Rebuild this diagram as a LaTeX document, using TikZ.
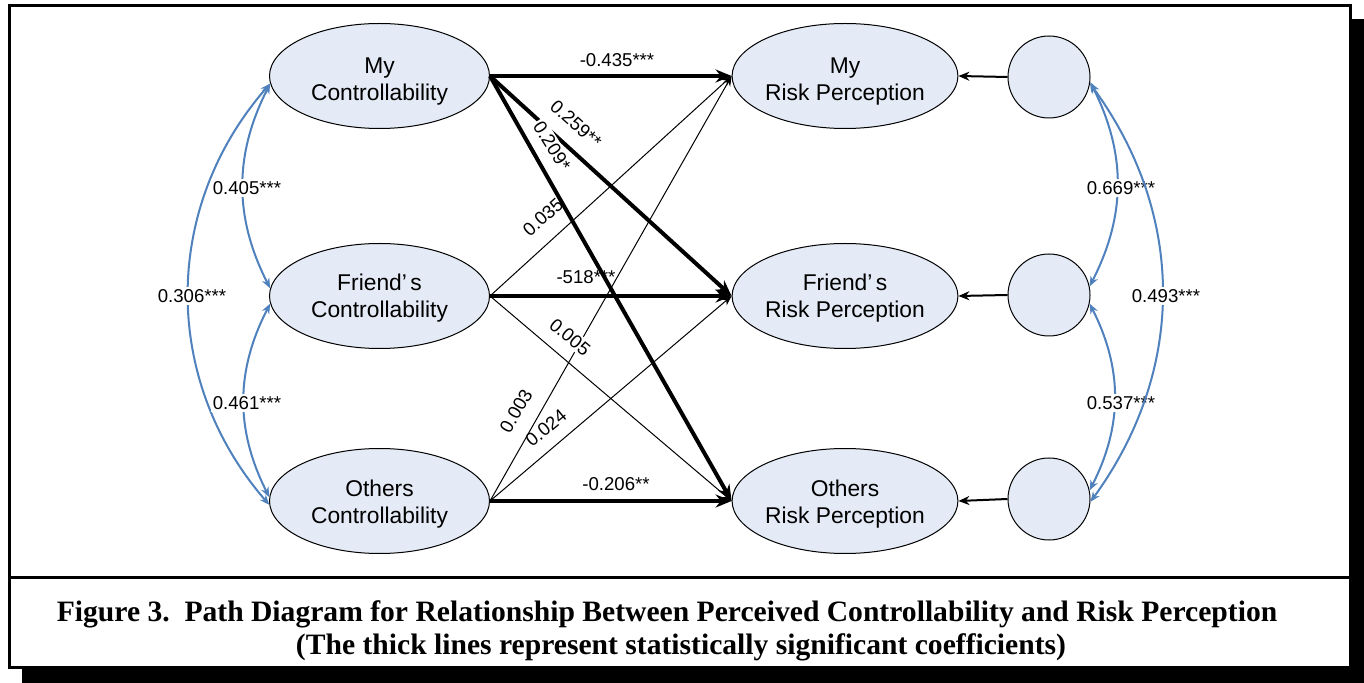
\documentclass[tikz,border=0pt]{standalone}
\usepackage{fontspec}
\setmainfont{Liberation Sans}
\newfontfamily\capfont{Liberation Serif}
\usetikzlibrary{shapes.geometric,arrows.meta}
\definecolor{ellfill}{RGB}{228,235,246}
\definecolor{arcblue}{RGB}{79,129,189}
\begin{document}
\begin{tikzpicture}[x=0.5pt,y=-0.5pt,
  ell/.style={ellipse,draw,line width=0.5pt,fill=ellfill,minimum width=110pt,minimum height=52.5pt,inner sep=0pt,align=center,font=\fontsize{11.4}{13.5}\selectfont},
  err/.style={circle,draw,line width=0.5pt,fill=ellfill,minimum size=41pt,inner sep=0pt},
  sig/.style={line width=2pt,-{Stealth[length=8pt,width=6.5pt]}},
  ns/.style={line width=0.5pt,-{Stealth[length=5pt,width=4pt]}},
  res/.style={line width=1pt,-{Stealth[length=5.5pt,width=4.5pt]}},
  cov/.style={arcblue,line width=1pt,{Stealth[length=5pt,width=4pt]}-{Stealth[length=5pt,width=4pt]}},
  lbl/.style={font=\fontsize{9.3}{11}\selectfont,inner sep=1pt},
  lblw/.style={lbl,fill=white},
  captext/.style={font=\capfont\bfseries\fontsize{14.8}{17}\selectfont,inner sep=0pt,anchor=base}
]
\useasboundingbox (0,0) rectangle (1364,683);
% frame with shadow
\fill[black] (22,19) rectangle (1364,683);
\draw[line width=1.25pt,fill=white] (9.5,5.5) rectangle (1350.5,667.5);
\draw[line width=1.5pt] (9.5,577.5) -- (1350.5,577.5);
% nodes
\node[ell] (m) at (379.5,76) {\rule{0pt}{13pt}My\\Controllability};
\node[ell] (f) at (379.5,296) {\rule{0pt}{10.8pt}Friend’\hspace{0.15em}s\\Controllability};
\node[ell] (o) at (379.5,501) {\rule{0pt}{11.3pt}Others\\Controllability};
\node[ell] (rm) at (845,76) {\rule{0pt}{13pt}My\\Risk Perception};
\node[ell] (rf) at (845,296) {\rule{0pt}{10.8pt}Friend’\hspace{0.15em}s\\Risk Perception};
\node[ell] (ro) at (845,501) {\rule{0pt}{11.3pt}Others\\Risk Perception};
\node[err] (e1) at (1049,77) {};
\node[err] (e2) at (1049,295) {};
\node[err] (e3) at (1049,499) {};
% paths
\draw[ns] (f.east) -- (rm.west);
\draw[ns] (f.east) -- (ro.west);
\draw[ns] (o.east) -- (rm.west);
\draw[ns] (o.east) -- (rf.west);
\draw[sig] (m.east) -- (rm.west);
\draw[sig] (m.east) -- (rf.west);
\draw[sig] (m.east) -- (ro.west);
\draw[sig] (f.east) -- (rf.west);
\draw[sig] (o.east) -- (ro.west);
\draw[res] (e1.west) -- (rm.east);
\draw[res] (e2.west) -- (rf.east);
\draw[res] (e3.west) -- (ro.east);
% path labels
\node[lbl] (k1) at (617,60) {-0.435***};
\node[lblw,rotate=-58] (k3) at (552,146) {0.209*};
\node[lbl,rotate=-41.8] (k2) at (576,124) {0.259**};
\node[lbl,rotate=41.8] (k4) at (543,217) {0.035};
\node[lbl] (k5) at (586,277) {-518***};
\node[lblw,rotate=-39.8] (k6) at (570,337) {0.005};
\node[lbl,rotate=59.9] (k7) at (516,411) {0.003};
\node[lbl,rotate=39.8] (k8) at (546,428) {0.024};
\node[lbl] (k9) at (616,484) {-0.206**};
% left covariances
\draw[cov] (m.184) to[bend right=41] (o.182);
\draw[cov] (m.184) to[bend right=27] (f.176);
\draw[cov] (f.184) to[bend right=27] (o.178);
\node[lblw] (c1) at (247,188) {0.405***};
\node[lblw] (c2) at (247,403) {0.461***};
\node[lblw] (c3) at (192,296) {0.306***};
% right covariances
\draw[cov] (e1.-7) to[bend left=27] (e2.12);
\draw[cov] (e2.-12) to[bend left=27] (e3.12);
\node[lblw] (c4) at (1121,188) {0.669***};
\node[lblw] (c5) at (1121,403) {0.537***};
\draw[cov] (e1.-9) to[bend left=36] (e3.-4);
\node[lblw] (c6) at (1166,296) {0.493***};
% caption
\node[captext] (t1) at (667,621) {Figure 3.\ \ Path Diagram for Relationship Between Perceived Controllability and Risk Perception};
\node[captext] (t2) at (681,654) {(The thick lines represent statistically significant coefficients)};
\end{tikzpicture}
\end{document}
